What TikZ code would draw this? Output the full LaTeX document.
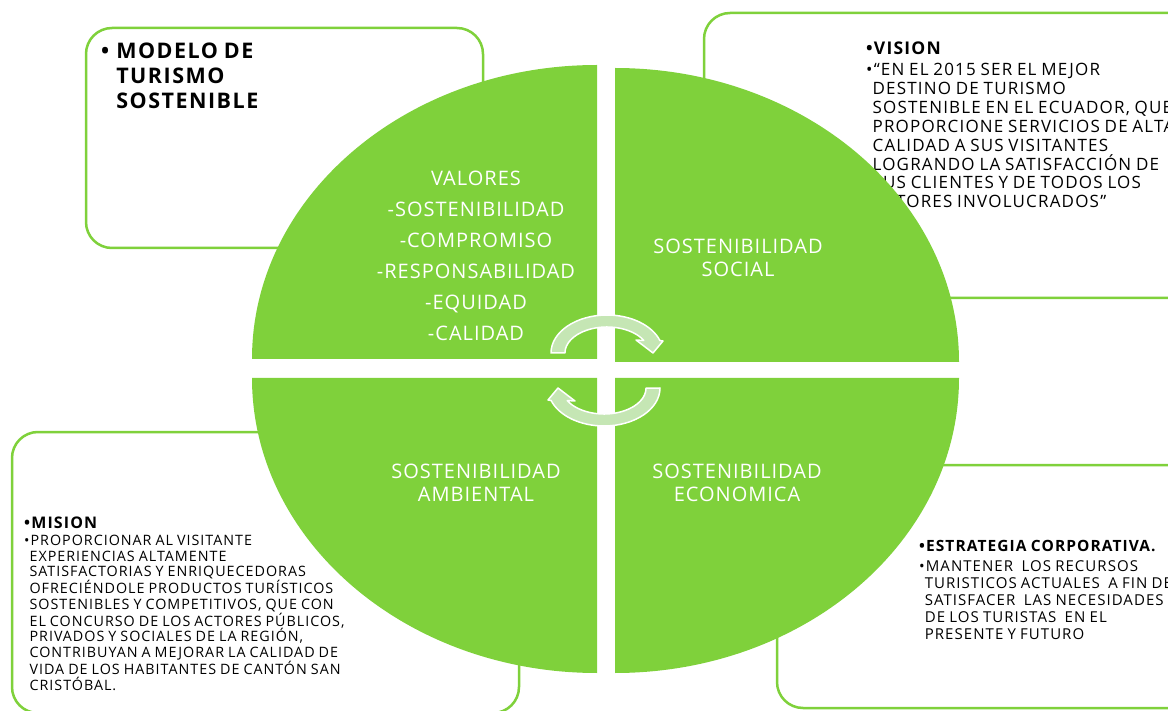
\documentclass[tikz,border=0pt]{standalone}
\usepackage{fontspec}
\setmainfont{Open Sans}[LetterSpace=5,WordSpace=0.6]
\newfontfamily\notefont{Open Sans}[LetterSpace=7,WordSpace=0.85]
\usetikzlibrary{positioning}
\definecolor{leaf}{HTML}{7FD13B}
\definecolor{pale}{HTML}{C5E6B4}
\newcommand{\bulpad}{\phantom{\textbullet}}

\begin{document}
\begin{tikzpicture}[x=1pt,y=-1pt,
    panel/.style={draw=leaf, line width=2.5pt, rounded corners=26pt, fill=white},
    quad/.style={fill=leaf},
    quadtext/.style={text=white, align=center, inner sep=0pt, font=\fontsize{20}{23}\selectfont},
    note/.style={text=black, align=left, anchor=north west, inner sep=0pt},
    cyclearrow/.style={fill=pale, draw=white, line width=1.5pt, line join=round}]
  \useasboundingbox (0,0) rectangle (1168,711);
  \clip (0,0) rectangle (1168,711);

  % boxes behind the circle
  \draw[panel] (86,28) rectangle (483,248);
  \draw[panel] (704,13) rectangle (1240,298);
  \draw[panel] (12,432) rectangle (519,713);
  \draw[panel] (777,465) rectangle (1240,708);

  % box texts
  \node[note, font=\notefont\bfseries\fontsize{21.5}{25}\selectfont] (title) at (101,43)
    {\textbullet\hspace{7pt}MODELO DE\\\bulpad\hspace{7pt}TURISMO\\\bulpad\hspace{7pt}SOSTENIBLE};
  \node[note, font=\notefont\bfseries\fontsize{17.5}{19}\selectfont] (vishead) at (866,42) {\textbullet VISION};
  \node[note, font=\notefont\fontsize{17}{18.9}\selectfont] (visbody) at (866,63)
    {\textbullet“EN EL 2015 SER EL MEJOR\\\bulpad DESTINO DE TURISMO\\\bulpad SOSTENIBLE EN EL ECUADOR, QUE\\\bulpad PROPORCIONE SERVICIOS DE ALTA\\\bulpad CALIDAD A SUS VISITANTES\\\bulpad LOGRANDO LA SATISFACCIÓN DE\\\bulpad SUS CLIENTES Y DE TODOS LOS\\\bulpad ACTORES INVOLUCRADOS”};
  \node[note, font=\notefont\bfseries\fontsize{16}{16}\selectfont] (mishead) at (24,517) {\textbullet MISION};
  \node[note, font=\notefont\fontsize{14.3}{15.7}\selectfont] (misbody) at (24,535)
    {\textbullet PROPORCIONAR AL VISITANTE\\\bulpad EXPERIENCIAS ALTAMENTE\\\bulpad SATISFACTORIAS Y ENRIQUECEDORAS\\\bulpad OFRECIÉNDOLE PRODUCTOS TURÍSTICOS\\\bulpad SOSTENIBLES Y COMPETITIVOS, QUE CON\\\bulpad EL CONCURSO DE LOS ACTORES PÚBLICOS,\\\bulpad PRIVADOS Y SOCIALES DE LA REGIÓN,\\\bulpad CONTRIBUYAN A MEJORAR LA CALIDAD DE\\\bulpad VIDA DE LOS HABITANTES DE CANTÓN SAN\\\bulpad CRISTÓBAL.};
  \node[note, font=\notefont\bfseries\fontsize{15.5}{16}\selectfont] (esthead) at (919,540) {\textbullet ESTRATEGIA CORPORATIVA.};
  \node[note, font=\notefont\fontsize{15}{17}\selectfont] (estbody) at (919,560)
    {\textbullet MANTENER \ LOS RECURSOS\\\bulpad TURISTICOS ACTUALES \ A FIN DE\\\bulpad SATISFACER \ LAS NECESIDADES\\\bulpad DE LOS TURISTAS \ EN EL\\\bulpad PRESENTE Y FUTURO};

  % four quarters
  \fill[quad] (597,359) -- (252,359) arc[start angle=180, end angle=270, x radius=345, y radius=294] -- cycle;
  \fill[quad] (615,362) -- (615,68) arc[start angle=270, end angle=360, x radius=344, y radius=294] -- cycle;
  \fill[quad] (615,378) -- (959,378) arc[start angle=0, end angle=90, x radius=344, y radius=295] -- cycle;
  \fill[quad] (597,378) -- (597,673) arc[start angle=90, end angle=180, x radius=345, y radius=295] -- cycle;

  \node[quadtext, font=\fontsize{20}{31}\selectfont] (valores) at (476,255.5)
    {VALORES\\-SOSTENIBILIDAD\\-COMPROMISO\\-RESPONSABILIDAD\\-EQUIDAD\\-CALIDAD};
  \node[quadtext] (social) at (738,257.5) {SOSTENIBILIDAD\\SOCIAL};
  \node[quadtext] (ambiental) at (476,482.5) {SOSTENIBILIDAD\\AMBIENTAL};
  \node[quadtext] (economica) at (737,482.5) {SOSTENIBILIDAD\\ECONOMICA};

  % cycle arrows
  \filldraw[cyclearrow] (551,353) arc[start angle=180, end angle=340.8, x radius=56, y radius=38]
    -- (663,341) -- (653,353) -- (636,340) -- (643.8,340.5)
    arc[start angle=331.3, end angle=180, x radius=42, y radius=26] -- cycle;
  \filldraw[cyclearrow] (660,388) arc[start angle=0, end angle=160.8, x radius=56, y radius=38]
    -- (548,400) -- (558,388) -- (575,401) -- (567.2,400.5)
    arc[start angle=151.3, end angle=0, x radius=42, y radius=26] -- cycle;
\end{tikzpicture}
\end{document}
